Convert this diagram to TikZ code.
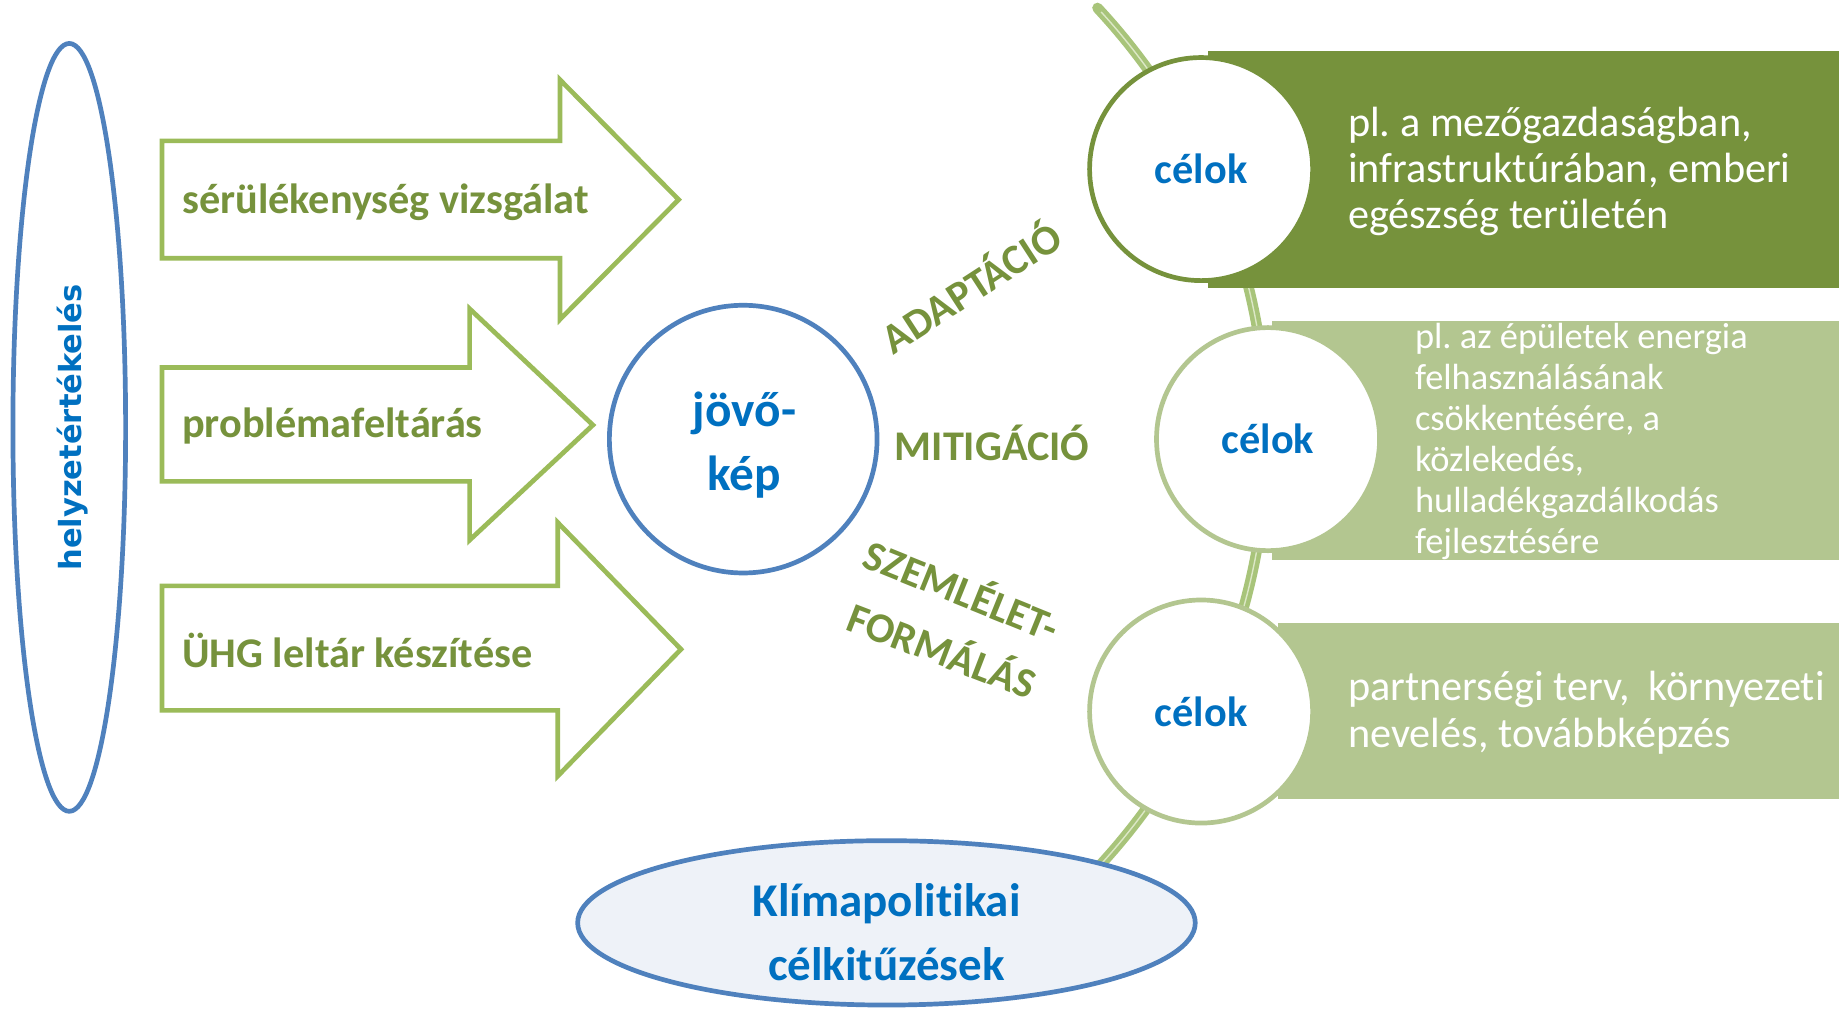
\documentclass[tikz,border=0pt]{standalone}
\usepackage{fontspec}
\setmainfont{Carlito}[Ligatures=NoCommon]
\newfontfamily\dejavu{DejaVu Sans}
\usetikzlibrary{shapes.geometric}
\definecolor{arrowgreen}{HTML}{9BBB59}
\definecolor{textgreen}{HTML}{76923C}
\definecolor{darkbox}{HTML}{76923C}
\definecolor{lightbox}{HTML}{B3C690}
\definecolor{outblue}{HTML}{4F81BD}
\definecolor{textblue}{HTML}{0070C0}
\definecolor{ellfill}{HTML}{EEF2F8}
\definecolor{arccol}{HTML}{A8C47A}
\definecolor{arcinner}{HTML}{DCE8C6}
\frenchspacing
\begin{document}
\begin{tikzpicture}[x=1pt,y=-1pt,
  arrowshape/.style={draw=arrowgreen, line width=4pt, fill=white, line join=miter},
  arrowlabel/.style={anchor=west, text=textgreen, font=\bfseries\fontsize{36}{40}\selectfont, inner sep=0pt},
  grouplabel/.style={text=textgreen, font=\bfseries\fontsize{36}{40}\selectfont, inner sep=0pt},
  goalring/.style={circle, fill=white, line width=4pt, minimum size=190pt, inner sep=0pt, text=textblue, font=\bfseries\fontsize{36}{40}\selectfont},
  goalbox/.style={anchor=north west, inner sep=0pt, draw=none},
  goaltext/.style={anchor=west, align=left, text=white, inner sep=0pt}
]
\fill[white] (0,0) rectangle (1568,860);
\useasboundingbox (0,0) rectangle (1568,860);

% arc behind everything
\draw[arccol, line width=9pt, line cap=round]
  plot[smooth, domain=-43:44, samples=90] ({542+537*cos(\x)},{373+537*sin(\x)});
\draw[arcinner, line width=1.2pt]
  plot[smooth, domain=-42.5:44, samples=90] ({542+537*cos(\x)},{373+537*sin(\x)});

% left ellipse
\node[ellipse, draw=outblue, line width=4pt, minimum width=96pt, minimum height=654pt, inner sep=0pt] (helyz) at (59,364) {};
\node[rotate=90, text=textblue, font=\dejavu\bfseries\fontsize{26}{30}\selectfont, inner sep=0pt] (helyzt) at (62,364) {helyzetértékelés};

% arrows
\draw[arrowshape] (138,120) -- (477,120) -- (477,68) -- (578,170) -- (477,272) -- (477,220) -- (138,220) -- cycle;
\draw[arrowshape] (138,313) -- (400,313) -- (400,263) -- (505,362) -- (400,460) -- (400,410) -- (138,410) -- cycle;
\draw[arrowshape] (138,499) -- (475,499) -- (475,445) -- (580,553) -- (475,661) -- (475,605) -- (138,605) -- cycle;
\node[arrowlabel] (a1) at (155,172) {sérülékenység vizsgálat};
\node[arrowlabel] (a2) at (155,363) {problémafeltárás};
\node[arrowlabel] (a3) at (155,554) {ÜHG leltár készítése};

% central circle
\node[circle, draw=outblue, line width=4pt, minimum size=228pt, inner sep=0pt] (jovo) at (633,374) {};
\node[align=center, text=textblue, font=\bfseries\fontsize{42}{55}\selectfont, inner sep=0pt] (jovot) at (634,379) {jövő-\\kép};

% group labels
\node[grouplabel, rotate=33] (adapt) at (826,243) {ADAPTÁCIÓ};
\node[grouplabel] (mitig) at (845,377) {MITIGÁCIÓ};
\node[grouplabel, rotate=-22] (szem) at (820,501) {SZEMLÉLET-};
\node[grouplabel, rotate=-21] (form) at (803,552) {FORMÁLÁS};

% goal boxes
\node[goalbox, fill=darkbox, minimum width=537pt, minimum height=202pt] (r1) at (1029,43) {};
\node[goalbox, fill=lightbox, minimum width=483pt, minimum height=204pt] (r2) at (1083,273) {};
\node[goalbox, fill=lightbox, minimum width=478pt, minimum height=150pt] (r3) at (1088,530) {};

\node[goalring, draw=darkbox] (c1) at (1023,144) {célok};
\node[goalring, draw=lightbox] (c2) at (1080,374) {célok};
\node[goalring, draw=lightbox] (c3) at (1023,606) {célok};

\node[goaltext, font=\fontsize{36}{39.5}\selectfont] (t1) at (1148,146) {pl. a mezőgazdaságban,\\infrastruktúrában, emberi\\egészség területén};
\node[goaltext, font=\fontsize{31}{35}\selectfont] (t2) at (1205,376) {pl. az épületek energia\\felhasználásának\\csökkentésére, a\\közlekedés,\\hulladékgazdálkodás\\fejlesztésére};
\node[goaltext, font=\fontsize{36}{40}\selectfont] (t3) at (1148,607) {partnerségi terv,~ környezeti\\nevelés, továbbképzés};

% bottom ellipse
\node[ellipse, draw=outblue, fill=ellfill, line width=4pt, minimum width=526pt, minimum height=140pt, inner sep=0pt] (klima) at (755,786) {};
\node[align=center, text=textblue, font=\bfseries\fontsize{40}{55}\selectfont, inner sep=0pt] (klimat) at (755,794) {Klímapolitikai\\célkitűzések};
\end{tikzpicture}
\end{document}
